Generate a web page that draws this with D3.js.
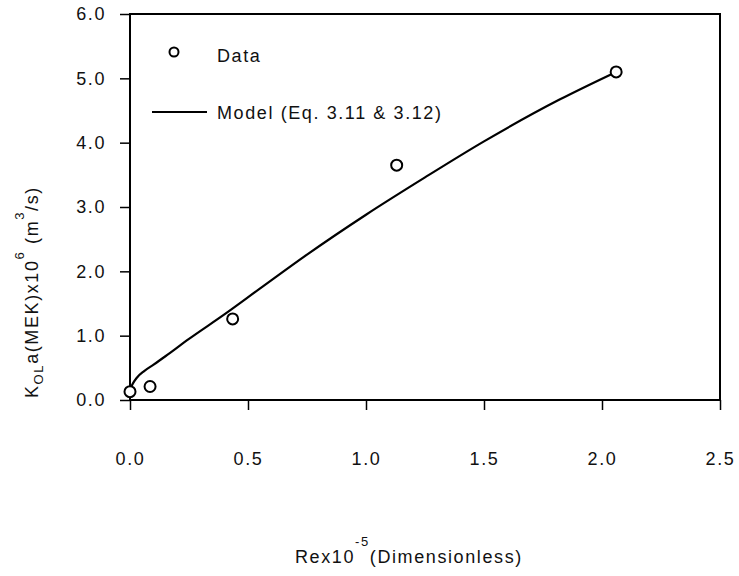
<!DOCTYPE html>
<html>
<head>
<meta charset="utf-8">
<script src="https://cdn.jsdelivr.net/npm/d3@7"></script>
<style>
  body { margin: 0; background: #fff; }
  svg { display: block; }
  text { font-family: "Liberation Sans", Arial, sans-serif; fill: #111; }
</style>
</head>
<body>
<svg id="chart" width="739" height="576"></svg>
<script>
// ---- data ----
const dataX = [0.0, 0.085, 0.435, 1.13, 2.06];
const dataY = [0.13, 0.21, 1.26, 3.65, 5.1];

const modelX = [0.0, 0.01, 0.03, 0.06, 0.1, 0.15, 0.25, 0.4, 0.55, 0.75, 1.0, 1.25, 1.5, 1.82, 2.06];
const modelY = [0.15, 0.24, 0.35, 0.45, 0.55, 0.68, 0.95, 1.33, 1.73, 2.26, 2.88, 3.46, 4.02, 4.67, 5.1];

const xTicks = [0.0, 0.5, 1.0, 1.5, 2.0, 2.5];
const yTicks = [0.0, 1.0, 2.0, 3.0, 4.0, 5.0, 6.0];

const legendLabels = ["Data", "Model (Eq. 3.11 & 3.12)"];

// ---- layout ----
const svg = d3.select("#chart");
const L = 130, R = 720, T = 14, B = 400;

const x = d3.scaleLinear().domain([0, 2.5]).range([L, R]);
const y = d3.scaleLinear().domain([0, 6]).range([B, T]);

const fs = 18, ls = "1.6px";

// frame
svg.append("rect")
  .attr("x", L).attr("y", T).attr("width", R - L).attr("height", B - T)
  .attr("fill", "none").attr("stroke", "#000").attr("stroke-width", 2);

// y axis
const yAxis = d3.axisLeft(y).tickValues(yTicks).tickFormat(d3.format(".1f"))
  .tickSize(10).tickPadding(14);
const gy = svg.append("g").attr("transform", `translate(${L},0)`).call(yAxis);
gy.select(".domain").remove();
gy.selectAll(".tick line").attr("stroke", "#000").attr("stroke-width", 1.5);
gy.selectAll(".tick text")
  .attr("font-size", fs).style("letter-spacing", ls)
  .attr("font-family", "Liberation Sans, Arial, sans-serif").attr("fill", "#111");

// x axis
const xAxis = d3.axisBottom(x).tickValues(xTicks).tickFormat(d3.format(".1f"))
  .tickSize(10).tickPadding(42);
const gx = svg.append("g").attr("transform", `translate(0,${B})`).call(xAxis);
gx.select(".domain").remove();
gx.selectAll(".tick line").attr("stroke", "#000").attr("stroke-width", 1.5);
gx.selectAll(".tick text")
  .attr("font-size", fs).style("letter-spacing", ls)
  .attr("font-family", "Liberation Sans, Arial, sans-serif").attr("fill", "#111");

// model line
const line = d3.line().x(d => x(d[0])).y(d => y(d[1])).curve(d3.curveMonotoneX);
svg.append("path")
  .datum(modelX.map((v, i) => [v, modelY[i]]))
  .attr("d", line)
  .attr("fill", "none").attr("stroke", "#000").attr("stroke-width", 2.2);

// data points
svg.selectAll("circle.pt")
  .data(dataX.map((v, i) => [v, dataY[i]]))
  .enter().append("circle")
  .attr("class", "pt")
  .attr("cx", d => x(d[0])).attr("cy", d => y(d[1])).attr("r", 5.5)
  .attr("fill", "#fff").attr("stroke", "#000").attr("stroke-width", 2);

// legend
svg.append("circle").attr("cx", 174).attr("cy", 52).attr("r", 4.5)
  .attr("fill", "#fff").attr("stroke", "#000").attr("stroke-width", 2);
svg.append("text").attr("x", 217).attr("y", 62).attr("font-size", fs)
  .style("letter-spacing", ls).text(legendLabels[0]);
svg.append("line").attr("x1", 152).attr("x2", 207).attr("y1", 112).attr("y2", 112)
  .attr("stroke", "#000").attr("stroke-width", 2.2);
svg.append("text").attr("x", 217).attr("y", 119).attr("font-size", fs)
  .style("letter-spacing", ls).text(legendLabels[1]);

// x label
const xl = svg.append("text").attr("x", 295).attr("y", 563).attr("font-size", fs)
  .style("letter-spacing", ls);
xl.append("tspan").text("Rex10");
xl.append("tspan").attr("font-size", 13).attr("dy", -17).text("-5");
xl.append("tspan").attr("dy", 17).text("(Dimensionless)");

// y label
const yl = svg.append("text")
  .attr("transform", "translate(38,398) rotate(-90)")
  .attr("font-size", fs).style("letter-spacing", ls);
yl.append("tspan").text("K");
yl.append("tspan").attr("font-size", 13).attr("dy", 5).text("OL");
yl.append("tspan").attr("dy", -5).text("a(MEK)x10");
yl.append("tspan").attr("font-size", 13).attr("dy", -14).text("6");
yl.append("tspan").attr("dy", 14).text(" (m");
yl.append("tspan").attr("font-size", 13).attr("dy", -14).text("3");
yl.append("tspan").attr("dy", 14).text("/s)");
</script>
</body>
</html>
